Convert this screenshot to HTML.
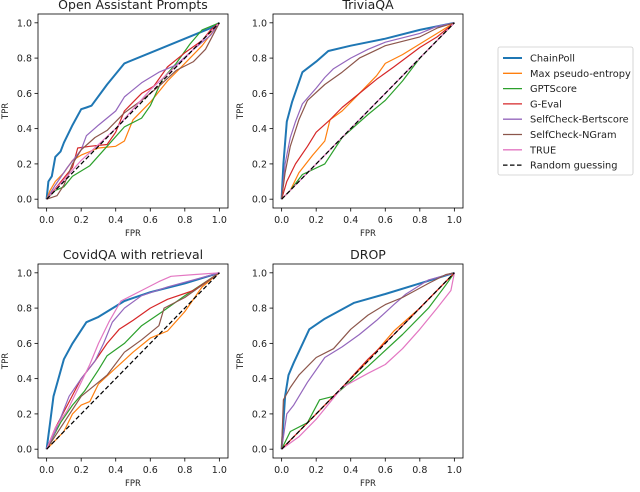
<!DOCTYPE html>
<html><head><meta charset="utf-8"><style>
body{margin:0;background:#fff;width:640px;height:487px;overflow:hidden;font-family:"Liberation Sans","DejaVu Sans",sans-serif}
svg text{font-family:"DejaVu Sans","Liberation Sans",sans-serif;fill:#222}
</style></head><body>
<svg id="chart" width="640" height="487" viewBox="0 0 640 487"></svg>
<script>
const seriesNames = ["ChainPoll","Max pseudo-entropy","GPTScore","G-Eval","SelfCheck-Bertscore","SelfCheck-NGram","TRUE"];
const panelTitles = ["Open Assistant Prompts","TriviaQA","CovidQA with retrieval","DROP"];
const tickLabels = ["0.0","0.2","0.4","0.6","0.8","1.0"];
const tickValues = [0,0.2,0.4,0.6,0.8,1.0];

const openChainPoll=[[0,0],[0.01,0.1],[0.03,0.13],[0.05,0.24],[0.08,0.27],[0.1,0.32],[0.15,0.42],[0.2,0.51],[0.23,0.52],[0.26,0.53],[0.35,0.65],[0.45,0.77],[0.6,0.83],[0.8,0.91],[0.95,0.97],[1,1]];
const openMaxEnt=[[0,0],[0.02,0.05],[0.05,0.1],[0.1,0.15],[0.15,0.22],[0.2,0.25],[0.3,0.29],[0.4,0.3],[0.45,0.33],[0.5,0.45],[0.6,0.55],[0.7,0.67],[0.8,0.77],[0.9,0.87],[1,1]];
const openGPTScore=[[0,0],[0.05,0.05],[0.1,0.07],[0.15,0.13],[0.25,0.19],[0.35,0.3],[0.45,0.41],[0.55,0.46],[0.6,0.53],[0.67,0.68],[0.75,0.77],[0.83,0.88],[0.9,0.96],[1,1]];
const openGEval=[[0,0],[0.05,0.06],[0.1,0.12],[0.15,0.18],[0.18,0.29],[0.25,0.3],[0.35,0.31],[0.4,0.38],[0.45,0.5],[0.5,0.55],[0.55,0.6],[0.62,0.64],[0.7,0.75],[0.8,0.83],[0.9,0.9],[0.95,0.96],[1,1]];
const openBert=[[0,0],[0.05,0.08],[0.12,0.18],[0.2,0.28],[0.23,0.36],[0.3,0.42],[0.4,0.5],[0.45,0.58],[0.55,0.66],[0.65,0.72],[0.75,0.76],[0.85,0.85],[0.95,0.93],[1,1]];
const openNGram=[[0,0],[0.06,0.02],[0.1,0.08],[0.15,0.2],[0.2,0.28],[0.28,0.35],[0.35,0.39],[0.45,0.49],[0.55,0.56],[0.65,0.64],[0.75,0.73],[0.85,0.78],[0.92,0.85],[1,1]];
const openTrue=[[0,0],[0.2,0.22],[0.4,0.4],[0.6,0.62],[0.8,0.8],[1,1]];

const triviaChainPoll=[[0,0],[0.01,0.2],[0.03,0.44],[0.06,0.55],[0.12,0.72],[0.2,0.78],[0.27,0.84],[0.4,0.87],[0.6,0.91],[0.8,0.96],[1,1]];
const triviaMaxEnt=[[0,0],[0.05,0.05],[0.1,0.15],[0.18,0.25],[0.25,0.33],[0.28,0.45],[0.35,0.5],[0.45,0.6],[0.55,0.7],[0.6,0.77],[0.7,0.82],[0.8,0.88],[1,1]];
const triviaGPTScore=[[0,0],[0.05,0.05],[0.12,0.14],[0.25,0.2],[0.35,0.35],[0.5,0.48],[0.6,0.56],[0.7,0.67],[0.8,0.8],[0.9,0.9],[1,1]];
const triviaGEval=[[0,0],[0.03,0.1],[0.08,0.2],[0.15,0.3],[0.2,0.38],[0.28,0.45],[0.35,0.52],[0.45,0.6],[0.55,0.68],[0.65,0.75],[0.8,0.86],[0.9,0.92],[1,1]];
const triviaBert=[[0,0],[0.02,0.2],[0.05,0.35],[0.08,0.44],[0.12,0.54],[0.2,0.63],[0.25,0.69],[0.3,0.74],[0.4,0.8],[0.5,0.85],[0.6,0.89],[0.8,0.94],[0.9,0.98],[1,1]];
const triviaNGram=[[0,0],[0.02,0.15],[0.05,0.3],[0.1,0.45],[0.15,0.56],[0.25,0.65],[0.35,0.72],[0.45,0.8],[0.6,0.87],[0.8,0.92],[0.9,0.97],[1,1]];
const triviaTrue=[[0,0],[0.2,0.2],[0.4,0.4],[0.6,0.6],[0.8,0.8],[1,1]];

const covidChainPoll=[[0,0],[0.02,0.15],[0.04,0.3],[0.1,0.51],[0.15,0.6],[0.23,0.72],[0.3,0.75],[0.45,0.84],[0.6,0.89],[0.8,0.94],[1,1]];
const covidMaxEnt=[[0,0],[0.05,0.05],[0.1,0.1],[0.15,0.2],[0.2,0.25],[0.25,0.27],[0.3,0.37],[0.4,0.46],[0.5,0.55],[0.6,0.63],[0.7,0.67],[0.8,0.78],[0.9,0.92],[1,1]];
const covidGPTScore=[[0,0],[0.08,0.15],[0.15,0.25],[0.22,0.33],[0.3,0.45],[0.35,0.53],[0.45,0.6],[0.55,0.7],[0.67,0.78],[0.8,0.87],[1,1]];
const covidGEval=[[0,0],[0.05,0.12],[0.12,0.25],[0.2,0.4],[0.28,0.5],[0.35,0.6],[0.42,0.68],[0.5,0.73],[0.6,0.8],[0.7,0.85],[0.85,0.9],[1,1]];
const covidBert=[[0,0],[0.05,0.1],[0.13,0.3],[0.2,0.4],[0.28,0.5],[0.33,0.6],[0.38,0.72],[0.45,0.8],[0.55,0.87],[0.7,0.92],[1,1]];
const covidNGram=[[0,0],[0.1,0.15],[0.2,0.3],[0.3,0.38],[0.35,0.42],[0.45,0.55],[0.55,0.62],[0.65,0.7],[0.68,0.8],[0.8,0.86],[1,1]];
const covidTrue=[[0,0],[0.05,0.12],[0.12,0.22],[0.2,0.38],[0.25,0.48],[0.3,0.6],[0.36,0.72],[0.43,0.84],[0.55,0.9],[0.65,0.95],[0.72,0.98],[0.85,0.99],[1,1]];

const dropChainPoll=[[0,0],[0.02,0.3],[0.04,0.42],[0.07,0.49],[0.16,0.68],[0.25,0.74],[0.42,0.83],[0.6,0.88],[0.8,0.94],[1,1]];
const dropMaxEnt=[[0,0],[0.1,0.1],[0.3,0.3],[0.5,0.5],[0.65,0.67],[0.8,0.8],[1,1]];
const dropGPTScore=[[0,0],[0.05,0.1],[0.15,0.15],[0.22,0.28],[0.3,0.3],[0.5,0.47],[0.7,0.65],[0.85,0.8],[0.95,0.93],[1,1]];
const dropGEval=[[0,0],[0.1,0.1],[0.2,0.2],[0.35,0.35],[0.5,0.51],[0.65,0.65],[0.8,0.8],[1,1]];
const dropBert=[[0,0],[0.03,0.2],[0.07,0.25],[0.15,0.38],[0.25,0.52],[0.35,0.58],[0.45,0.65],[0.55,0.73],[0.65,0.82],[0.72,0.88],[0.85,0.96],[1,1]];
const dropNGram=[[0,0],[0.01,0.28],[0.05,0.35],[0.1,0.42],[0.2,0.52],[0.3,0.57],[0.4,0.68],[0.5,0.76],[0.6,0.82],[0.7,0.86],[0.85,0.94],[0.95,0.99],[1,1]];
const dropTrue=[[0,0],[0.1,0.07],[0.2,0.17],[0.35,0.35],[0.5,0.43],[0.6,0.48],[0.7,0.57],[0.8,0.68],[0.9,0.8],[0.98,0.9],[1,1]];

const randomLine=[[0,0],[1,1]];

const panelSeries=[
 [openChainPoll,openMaxEnt,openGPTScore,openGEval,openBert,openNGram,openTrue],
 [triviaChainPoll,triviaMaxEnt,triviaGPTScore,triviaGEval,triviaBert,triviaNGram,triviaTrue],
 [covidChainPoll,covidMaxEnt,covidGPTScore,covidGEval,covidBert,covidNGram,covidTrue],
 [dropChainPoll,dropMaxEnt,dropGPTScore,dropGEval,dropBert,dropNGram,dropTrue]
];
const colors=["#1f77b4","#ff7f0e","#2ca02c","#d62728","#9467bd","#8c564b","#e377c2"];
const frames=[{x:38,y:14},{x:273,y:14},{x:38,y:264},{x:273,y:264}];
const FW=190,FH=194;
const NS="http://www.w3.org/2000/svg";
const svg=document.getElementById('chart');
function mk(tag,attrs,parent){const e=document.createElementNS(NS,tag);for(const k in attrs)e.setAttribute(k,attrs[k]);(parent||svg).appendChild(e);return e;}
function slug(s){return s.toLowerCase().replace(/[^a-z0-9]+/g,'-').replace(/^-|-$/g,'');}

panelSeries.forEach((series,pi)=>{
  const f=frames[pi];
  const g=mk('g',{});
  
  
  const sx=v=>f.x+(v+0.05)/1.1*FW;
  const sy=v=>f.y+FH-(v+0.05)/1.1*FH;
  const t=mk('text',{x:f.x+FW/2,y:f.y-5,'text-anchor':'middle','font-size':'12.5'},g);
  t.textContent=panelTitles[pi];
  
  
  tickValues.forEach((v,i)=>{
    mk('line',{x1:sx(v),x2:sx(v),y1:f.y+FH,y2:f.y+FH+3.5,stroke:'#000','stroke-width':0.8},g);
    const xl=mk('text',{x:sx(v),y:f.y+FH+15,'text-anchor':'middle','font-size':'9.5'},g);
    xl.textContent=tickLabels[i];
    
    
    mk('line',{x1:f.x-3.5,x2:f.x,y1:sy(v),y2:sy(v),stroke:'#000','stroke-width':0.8},g);
    const yl=mk('text',{x:f.x-6,y:sy(v)+3.5,'text-anchor':'end','font-size':'9.5'},g);
    yl.textContent=tickLabels[i];
    
    
  });
  const xt=mk('text',{x:f.x+FW/2,y:f.y+FH+28,'text-anchor':'middle','font-size':'8.5'},g);
  xt.textContent='FPR';
  
  
  const yx=f.x-30,yy=f.y+FH/2;
  const yt=mk('text',{x:yx,y:yy,'text-anchor':'middle','font-size':'8.5',transform:`rotate(-90 ${yx} ${yy})`},g);
  yt.textContent='TPR';
  
  
  series.forEach((pts,si)=>{
    const p=mk('polyline',{points:pts.map(q=>sx(q[0]).toFixed(1)+','+sy(q[1]).toFixed(1)).join(' '),fill:'none',stroke:colors[si],'stroke-width':si===0?2:1.2,'stroke-linejoin':'round'},g);
    
    
  });
  const r=mk('polyline',{points:randomLine.map(q=>sx(q[0])+','+sy(q[1])).join(' '),fill:'none',stroke:'#000','stroke-width':1.2,'stroke-dasharray':'4.5,2.5'},g);
  
  
  const fr=mk('rect',{x:f.x,y:f.y,width:FW,height:FH,fill:'none',stroke:'#000','stroke-width':0.8},g);
  
  
});

const lg=mk('g',{});


const lb=mk('rect',{x:498,y:47,width:135,height:128,rx:2,fill:'#fff',stroke:'#ccc','stroke-width':0.8},lg);


const legendLabels=seriesNames.concat(["Random guessing"]);
legendLabels.forEach((name,i)=>{
  const y=58+i*15.3;
  const dashed=i===7;
  const ln=mk('line',{x1:503,x2:522,y1:y,y2:y,stroke:dashed?'#000':colors[i],'stroke-width':i===0?2:1.3,'stroke-dasharray':dashed?'4.5,2.5':'none'},lg);
  
  
  const tx=mk('text',{x:530,y:y+3.5,'font-size':'9.8'},lg);
  tx.textContent=name;
  
  
});
</script>
</body></html>
